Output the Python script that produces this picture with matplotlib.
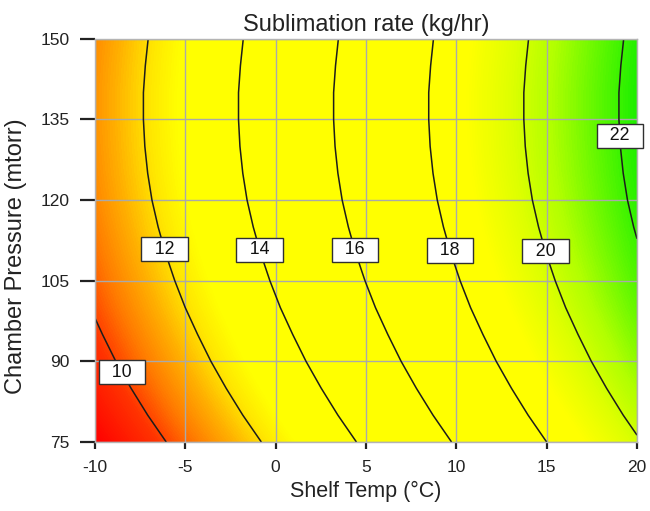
import matplotlib
matplotlib.use("Agg")
import matplotlib.pyplot as plt
from matplotlib.colors import LinearSegmentedColormap
import numpy as np

# shelf temperature (deg C) and chamber pressure (mtorr) grid
shelf_temp = [-10, -5, 0, 5, 10, 15, 20]
pressure = [75, 80, 85, 90, 95, 100, 105, 110, 115, 120, 125, 130, 135, 140, 145, 150]

# sublimation rate (kg/hr), one row per pressure
rate = [
    [8.50, 10.40, 12.30, 14.20, 16.10, 18.00, 19.90],
    [8.89, 10.79, 12.69, 14.59, 16.49, 18.39, 20.29],
    [9.24, 11.14, 13.04, 14.94, 16.84, 18.74, 20.64],
    [9.56, 11.46, 13.36, 15.26, 17.16, 19.06, 20.96],
    [9.84, 11.74, 13.64, 15.54, 17.44, 19.34, 21.24],
    [10.10, 12.00, 13.90, 15.80, 17.70, 19.60, 21.50],
    [10.32, 12.22, 14.12, 16.02, 17.92, 19.82, 21.72],
    [10.51, 12.41, 14.31, 16.21, 18.11, 20.01, 21.91],
    [10.67, 12.57, 14.47, 16.37, 18.27, 20.17, 22.07],
    [10.80, 12.70, 14.60, 16.50, 18.40, 20.30, 22.20],
    [10.89, 12.79, 14.69, 16.59, 18.49, 20.39, 22.29],
    [10.95, 12.85, 14.75, 16.65, 18.55, 20.45, 22.35],
    [10.98, 12.88, 14.78, 16.68, 18.58, 20.48, 22.38],
    [10.98, 12.88, 14.78, 16.68, 18.58, 20.48, 22.38],
    [10.94, 12.84, 14.74, 16.64, 18.54, 20.44, 22.34],
    [10.88, 12.78, 14.68, 16.58, 18.48, 20.38, 22.28],
]

levels = [10, 12, 14, 16, 18, 20, 22]
x_ticks = [-10, -5, 0, 5, 10, 15, 20]
y_ticks = [75, 90, 105, 120, 135, 150]

# where the contour labels sit (T, P)
label_spots = [(-8.5, 88), (-6.1, 110.9), (-0.75, 110.9), (4.6, 110.9),
               (10.0, 110.9), (15.4, 110.9), (19.1, 132)]

plt.rcParams['font.family'] = ['Liberation Sans', 'DejaVu Sans']
plt.rcParams['axes.unicode_minus'] = False

vmin, vmax = 8.5, 22.5
nodes = [(8.5, '#ff0000'), (9.8, '#ff3300'), (10.6, '#ff7a00'), (11.4, '#ffb000'),
         (12.1, '#ffe600'), (12.7, '#ffff00'), (18.8, '#ffff00'), (19.7, '#e0ff00'),
         (20.6, '#b0ff00'), (21.5, '#64f800'), (22.5, '#14ee00')]
cmap = LinearSegmentedColormap.from_list(
    'subl', [((v - vmin) / (vmax - vmin), c) for v, c in nodes])

T = np.array(shelf_temp, dtype=float)
P = np.array(pressure, dtype=float)
Z = np.array(rate)

fig = plt.figure(figsize=(6.5, 5.11), dpi=100)
ax = fig.add_axes([0.146, 0.135, 0.834, 0.789])

dT = T[1] - T[0]
dP = P[1] - P[0]
ax.imshow(Z, origin='lower', aspect='auto', cmap=cmap, vmin=vmin, vmax=vmax,
          extent=(T[0] - dT / 2, T[-1] + dT / 2, P[0] - dP / 2, P[-1] + dP / 2),
          interpolation='bilinear', interpolation_stage='data', zorder=0)

cs = ax.contour(T, P, Z, levels=levels, colors='#1c1c1c', linewidths=1.1, zorder=2)
labels = ax.clabel(cs, levels, manual=label_spots, inline=False,
                   fmt=lambda v: '  %d  ' % v, fontsize=12.8)
for t in labels:
    t.set_rotation(0)
    t.set_fontsize(12.8)
    t.set_color('#111111')
    t.set_zorder(5)
    t.set_clip_on(False)
    t.set_bbox(dict(facecolor='white', edgecolor='#303030', linewidth=1.0,
                    boxstyle='square,pad=0.2'))

ax.set_xlim(-10, 20)
ax.set_ylim(75, 150)
ax.set_xticks(x_ticks)
ax.set_yticks(y_ticks)
ax.grid(True, color='#a9a9a9', linewidth=1.0)

for s in ax.spines.values():
    s.set_color('#b4b4b4')
    s.set_linewidth(1.0)

ax.tick_params(axis='y', length=11, width=1.6, color='#222222', pad=7,
               labelsize=12.5, labelcolor='#222222')
ax.tick_params(axis='x', length=5, width=1.6, color='#222222', pad=8,
               labelsize=12.5, labelcolor='#222222')

ax.set_title('Sublimation rate (kg/hr)', fontsize=17, color='#222222', pad=6)
ax.set_xlabel('Shelf Temp (°C)', fontsize=15.5, color='#222222', labelpad=4)
ax.set_ylabel('Chamber Pressure (mtorr)', fontsize=17, color='#222222')
ax.yaxis.set_label_coords(-0.125, 0.46)

fig.savefig('out.png', dpi=100)
